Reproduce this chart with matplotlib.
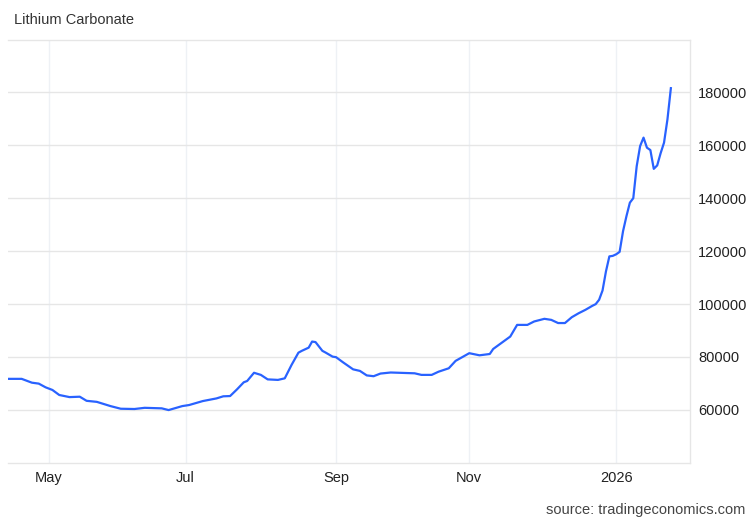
import numpy as np
import matplotlib.pyplot as plt

plt.rcParams['font.family'] = ['Liberation Sans', 'DejaVu Sans']

# China exchange holidays inside the window (weekdays only)
holidays = ['2025-05-01', '2025-05-02', '2025-05-05',
            '2025-10-01', '2025-10-02', '2025-10-03',
            '2025-10-06', '2025-10-07', '2025-10-08',
            '2026-01-01', '2026-01-02']

dates = ['2025-04-15', '2025-04-21', '2025-04-24', '2025-04-28', '2025-04-30',
         '2025-05-07', '2025-05-09', '2025-05-14', '2025-05-19', '2025-05-21',
         '2025-05-26', '2025-05-30', '2025-06-04', '2025-06-10', '2025-06-13',
         '2025-06-20', '2025-06-24', '2025-06-30', '2025-07-02', '2025-07-08',
         '2025-07-14', '2025-07-16', '2025-07-18', '2025-07-22', '2025-07-24',
         '2025-07-25', '2025-07-29', '2025-07-31', '2025-08-04', '2025-08-07',
         '2025-08-11', '2025-08-13', '2025-08-15', '2025-08-18', '2025-08-20',
         '2025-08-21', '2025-08-22', '2025-08-26', '2025-08-27', '2025-08-29',
         '2025-09-01', '2025-09-03', '2025-09-08', '2025-09-10', '2025-09-12',
         '2025-09-16', '2025-09-18', '2025-09-23', '2025-10-10', '2025-10-14',
         '2025-10-17', '2025-10-21', '2025-10-24', '2025-10-28', '2025-11-03',
         '2025-11-06', '2025-11-11', '2025-11-12', '2025-11-19', '2025-11-21',
         '2025-11-26', '2025-11-28', '2025-12-03', '2025-12-05', '2025-12-09',
         '2025-12-11', '2025-12-15', '2025-12-17', '2025-12-19', '2025-12-23',
         '2025-12-24', '2025-12-25', '2025-12-26', '2025-12-29', '2025-12-30',
         '2025-12-31', '2026-01-05', '2026-01-06', '2026-01-07', '2026-01-08',
         '2026-01-09', '2026-01-12', '2026-01-13', '2026-01-14', '2026-01-15',
         '2026-01-16', '2026-01-19', '2026-01-20', '2026-01-21', '2026-01-22',
         '2026-01-23', '2026-01-26', '2026-01-27']

prices = [71700, 71700, 70250, 69900, 68500,
          67500, 65600, 64800, 64950, 63400,
          63000, 61400, 60400, 60300, 60750,
          60550, 59900, 61400, 61800, 63300,
          64300, 65100, 65200, 67700, 70400,
          70900, 74000, 73200, 71500, 71300,
          71900, 77000, 81600, 82300, 83500,
          85800, 85600, 82300, 81600, 80100,
          79900, 78000, 75300, 74700, 73000,
          72700, 73700, 74100, 73800, 73200,
          73200, 74400, 75700, 78500, 81400,
          80600, 81100, 83000, 87700, 92100,
          92100, 93400, 94400, 94000, 92800,
          92800, 95000, 96500, 97800, 99300,
          99950, 101600, 105100, 112300, 118000,
          118200, 118800, 119700, 127500, 133200,
          138300, 140000, 152100, 159700, 162900,
          159100, 158200, 151100, 152400, 157000,
          161000, 169800, 181600]

tick_dates = ['2025-05-06', '2025-07-01', '2025-09-01', '2025-11-03', '2026-01-05']
tick_labels = ['May', 'Jul', 'Sep', 'Nov', '2026']
y_ticks = [60000, 80000, 100000, 120000, 140000, 160000, 180000]

start = np.datetime64(dates[0])


# Trading-day position (the chart spaces points by session, not calendar day)
def session_index(d):
    return np.busday_count(start, np.array(d, dtype='datetime64[D]'), holidays=holidays)


x = session_index(dates)
xt = session_index(tick_dates)

fig = plt.figure(figsize=(7.52, 5.22), dpi=100)
ax = fig.add_axes([8 / 752, 1 - 462.7 / 522, (690 - 8) / 752, (462.7 - 39.5) / 522])

ax.plot(x, prices, color='#2962ff', lw=1.6, solid_joinstyle='round', zorder=3)

ax.set_xlim(0, 199.6)
ax.set_ylim(40000, 200000)

ax.set_xticks(xt)
ax.set_xticklabels(tick_labels)
ax.set_yticks(y_ticks)
ax.set_yticklabels([str(v) for v in y_ticks])
ax.yaxis.tick_right()
ax.tick_params(axis='both', length=0, labelsize=10.5, labelcolor='#222222')
ax.tick_params(axis='y', pad=6)
ax.tick_params(axis='x', pad=6)

ax.grid(axis='y', color='#e6e6e6', lw=1)
ax.grid(axis='x', color='#eef1f5', lw=1)

for side in ['top', 'bottom', 'right']:
    ax.spines[side].set_color('#e6e6e6')
    ax.spines[side].set_linewidth(1)
ax.spines['left'].set_visible(False)

fig.text(14 / 752, 1 - 20 / 522, 'Lithium Carbonate', fontsize=10.5,
         color='#333333', ha='left', va='center')
fig.text(745 / 752, 1 - 510 / 522, 'source: tradingeconomics.com', fontsize=10.5,
         color='#444444', ha='right', va='center')

fig.savefig('out.png', dpi=100)
